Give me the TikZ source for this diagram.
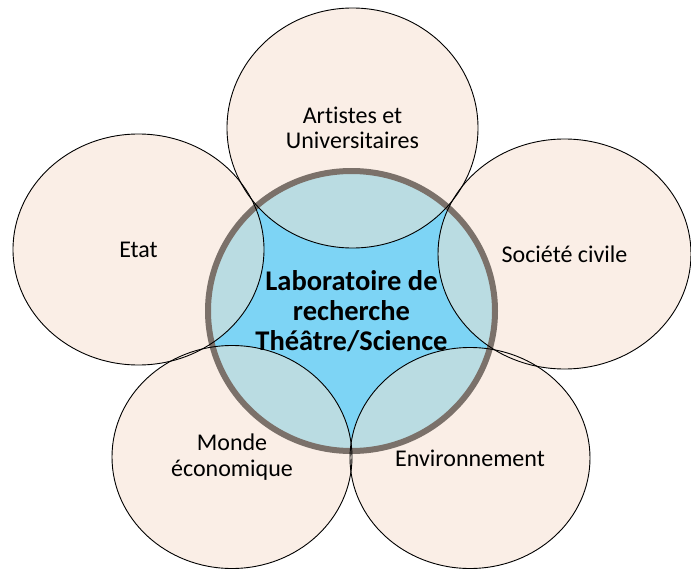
\documentclass[tikz,border=0pt]{standalone}
\usepackage{fontspec}
\setmainfont{Carlito}[Ligatures=NoCommon]
\usetikzlibrary{shapes.geometric}
\definecolor{peach}{HTML}{FAEEE6}
\definecolor{labblue}{HTML}{7DD4F5}
\definecolor{mixblue}{HTML}{BADCE2}
\definecolor{ringgray}{HTML}{7B716A}
\begin{document}
\begin{tikzpicture}[x=1pt,y=-1pt,
    petal/.style={ellipse,draw=black,line width=0.9pt,inner sep=0pt,align=center,
      font=\fontsize{24}{25.5}\selectfont},
    lab/.style={align=center,inner sep=0pt,font=\fontsize{28.5}{30}\selectfont\bfseries}]
  \useasboundingbox (0,0) rectangle (691,570);
  \def\petals{352.5/128/125.5/120, 138.5/249.5/125.5/115.5, 564.5/254/126.5/115,
    232/457/120/111.5, 470/458/120/110.5}
  \coordinate (mid) at (351.5,311);
  % fills
  \foreach \cx/\cy/\rx/\ry in \petals
    \fill[peach] (\cx,\cy) ellipse [x radius=\rx pt, y radius=\ry pt];
  \fill[labblue] (mid) ellipse [x radius=143.5pt, y radius=140pt];
  \begin{scope}
    \clip (mid) ellipse [x radius=143.5pt, y radius=140pt];
    \foreach \cx/\cy/\rx/\ry in \petals
      \fill[mixblue] (\cx,\cy) ellipse [x radius=\rx pt, y radius=\ry pt];
  \end{scope}
  \draw[ringgray,line width=6pt] (mid) ellipse [x radius=143.5pt, y radius=140pt];
  % petals
  \node[petal,minimum width=251pt,minimum height=240pt] (arts) at (352.5,128) {Artistes et\\Universitaires};
  \node[petal,minimum width=251pt,minimum height=231pt] (etat) at (138.5,249.5) {Etat};
  \node[petal,minimum width=253pt,minimum height=230pt] (civile) at (564.5,254) {Société civile};
  \node[petal,minimum width=240pt,minimum height=223pt] (monde) at (232,457) {Monde\\économique};
  \node[petal,minimum width=240pt,minimum height=221pt] (env) at (470,458) {Environnement};
  \node[lab] (labo) at (mid) {Laboratoire de\\recherche\\Théâtre/Science};
\end{tikzpicture}
\end{document}
